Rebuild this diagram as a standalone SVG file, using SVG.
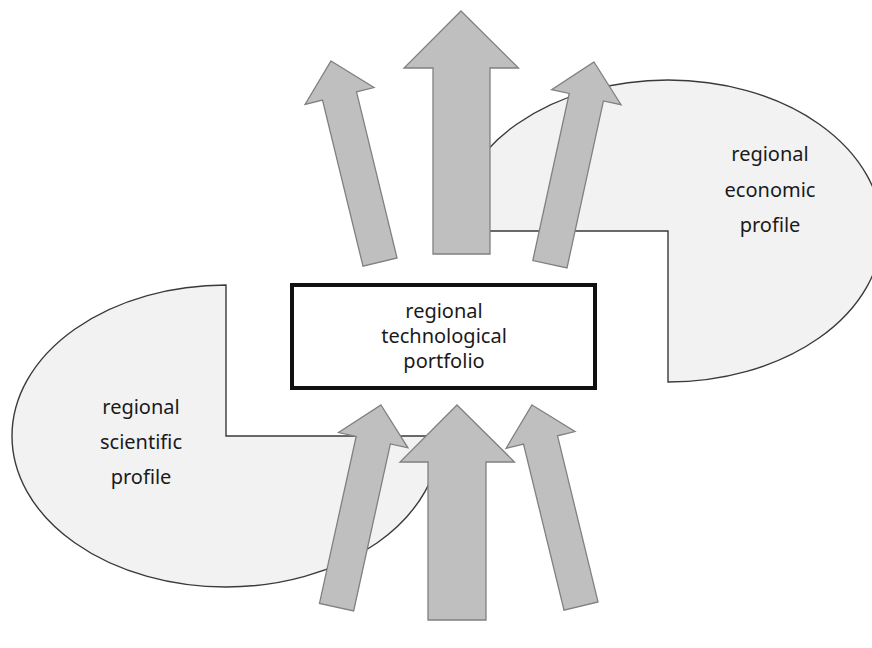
<svg xmlns="http://www.w3.org/2000/svg" width="872" height="648" viewBox="0 0 872 648">
<defs>
<style>
.profile{fill:#f2f2f2;stroke:#3a3a3a;stroke-width:1.4}
.arrow{fill:#bfbfbf;stroke:#808080;stroke-width:1.3;stroke-linejoin:miter}
.box{fill:#ffffff;stroke:#111111;stroke-width:4}
.lbl{font-family:"Noto Sans","Open Sans","DejaVu Sans",sans-serif;font-size:20px;fill:#1a1a1a;text-anchor:middle}
</style>
<polygon id="small" points="0,0 35.5,36 17.5,36 17.5,207 -17.5,207 -17.5,36 -35.5,36"/>
</defs>
<g id="economic-profile">
<path class="profile" d="M668,231 L454,231 A214,151 0 1 1 668,382 Z"/>
<text class="lbl" x="770" y="161">regional</text>
<text class="lbl" x="770" y="197">economic</text>
<text class="lbl" x="770" y="232">profile</text>
</g>
<g id="scientific-profile">
<path class="profile" d="M226,436 L226,285 A214,151 0 1 0 440,436 Z"/>
<text class="lbl" x="141" y="414">regional</text>
<text class="lbl" x="141" y="449">scientific</text>
<text class="lbl" x="141" y="484">profile</text>
</g>
<g id="connectors">
<use href="#small" class="arrow" transform="translate(331,61) rotate(-13.7)"/>
<polygon class="arrow" points="461,11 518.5,68 490,68 490,254 433,254 433,68 404,68"/>
<use href="#small" class="arrow" transform="translate(594,62) rotate(12.3)"/>
<use href="#small" class="arrow" transform="translate(381,405) rotate(12.4)"/>
<polygon class="arrow" points="457,405 514.5,462 486,462 486,620 428,620 428,462 400,462"/>
<use href="#small" class="arrow" transform="translate(532,405) rotate(-13.7)"/>
</g>
<g id="technological-portfolio">
<rect class="box" x="292" y="285" width="303" height="103"/>
<text class="lbl" x="444" y="318">regional</text>
<text class="lbl" x="444" y="343">technological</text>
<text class="lbl" x="444" y="368">portfolio</text>
</g>
</svg>
